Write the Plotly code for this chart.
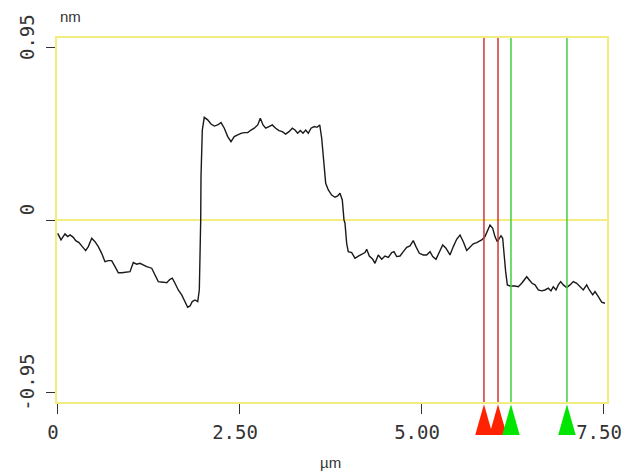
import plotly.graph_objects as go

# Profile: lateral position (µm) and height (nm)
x_um = [0.010, 0.055, 0.110, 0.147, 0.179, 0.224, 0.257, 0.302, 0.348, 0.394,
        0.430, 0.477, 0.522, 0.567, 0.614, 0.659, 0.705, 0.751, 0.797, 0.842,
        0.889, 0.957, 1.003, 1.048, 1.095, 1.140, 1.185, 1.232, 1.301, 1.346,
        1.391, 1.460, 1.507, 1.552, 1.584, 1.621, 1.666, 1.713, 1.758, 1.795,
        1.827, 1.858, 1.896, 1.933, 1.955, 1.964, 1.974,
        1.978, 1.996, 2.023, 2.070, 2.115, 2.161, 2.207, 2.253, 2.298, 2.345,
        2.390, 2.435, 2.482, 2.527, 2.573, 2.620, 2.665, 2.710, 2.757, 2.793,
        2.830, 2.867, 2.912, 2.957, 3.004, 3.049, 3.095, 3.141, 3.187, 3.232,
        3.269, 3.306, 3.342, 3.379, 3.416, 3.452, 3.489, 3.534, 3.571, 3.609,
        3.636, 3.663, 3.691, 3.727, 3.773, 3.819, 3.856, 3.887, 3.919, 3.942,
        3.956, 3.979, 4.001, 4.048, 4.093, 4.139, 4.185, 4.231, 4.254, 4.290,
        4.337, 4.368, 4.413, 4.460, 4.505, 4.551, 4.598, 4.629, 4.666, 4.712,
        4.757, 4.804, 4.849, 4.894, 4.931, 4.977, 5.032, 5.078, 5.124, 5.161,
        5.206, 5.251, 5.298, 5.343, 5.398, 5.444, 5.490, 5.536, 5.581, 5.628,
        5.673, 5.718, 5.765, 5.787, 5.834, 5.879, 5.925, 5.948, 5.985, 6.016,
        6.048, 6.076, 6.099, 6.122, 6.140, 6.163, 6.186, 6.223, 6.291, 6.337,
        6.383, 6.415, 6.452, 6.488, 6.525, 6.566, 6.611, 6.658, 6.703, 6.749,
        6.786, 6.817, 6.854, 6.886, 6.919, 6.955, 7.001, 7.047, 7.092, 7.139,
        7.184, 7.229, 7.276, 7.312, 7.359, 7.390, 7.436, 7.482, 7.527]

height_nm = [-0.071, -0.107, -0.074, -0.089, -0.080, -0.093, -0.111, -0.122, -0.144, -0.166,
             -0.144, -0.098, -0.117, -0.144, -0.181, -0.227, -0.221, -0.221, -0.254, -0.288,
             -0.288, -0.282, -0.282, -0.232, -0.241, -0.236, -0.245, -0.254, -0.263, -0.300,
             -0.337, -0.340, -0.343, -0.324, -0.318, -0.346, -0.383, -0.410, -0.447, -0.478,
             -0.471, -0.447, -0.438, -0.447, -0.383, -0.236, 0.003,
             0.241, 0.498, 0.568, 0.554, 0.531, 0.520, 0.526, 0.539, 0.508, 0.462,
             0.434, 0.462, 0.471, 0.480, 0.484, 0.484, 0.498, 0.508, 0.526, 0.563,
             0.526, 0.508, 0.517, 0.526, 0.508, 0.495, 0.489, 0.476, 0.489, 0.508,
             0.498, 0.480, 0.495, 0.480, 0.498, 0.480, 0.508, 0.517, 0.513, 0.526,
             0.453, 0.315, 0.205, 0.168, 0.140, 0.128, 0.135, 0.150, 0.113, 0.003,
             -0.015, -0.126, -0.172, -0.177, -0.208, -0.196, -0.186, -0.177, -0.159, -0.196,
             -0.214, -0.236, -0.190, -0.214, -0.196, -0.203, -0.177, -0.172, -0.199, -0.196,
             -0.172, -0.148, -0.140, -0.111, -0.144, -0.181, -0.190, -0.190, -0.172, -0.199,
             -0.214, -0.172, -0.135, -0.153, -0.190, -0.144, -0.104, -0.080, -0.117, -0.166,
             -0.149, -0.129, -0.122, -0.117, -0.107, -0.089, -0.043, -0.025, -0.043, -0.089,
             -0.117, -0.098, -0.084, -0.098, -0.190, -0.282, -0.355, -0.361, -0.361, -0.365,
             -0.346, -0.328, -0.310, -0.328, -0.346, -0.355, -0.383, -0.388, -0.383, -0.373,
             -0.388, -0.365, -0.383, -0.355, -0.337, -0.355, -0.370, -0.355, -0.337, -0.346,
             -0.365, -0.383, -0.355, -0.383, -0.410, -0.392, -0.420, -0.450, -0.456]

# Cursor markers (µm)
red_cursors = [5.865, 6.058]
green_cursors = [6.236, 7.005]
hidden_cursor = [6.125]

x_ticks = [0, 2.5, 5.0, 7.5]
x_tick_text = ["0", "2.50", "5.00", "7.50"]
y_ticks = [-0.95, 0, 0.95]
y_tick_text = ["-0.95", "0", "0.95"]

YELLOW = "#f3ec7e"
TICK_FONT = dict(family="DejaVu Sans Mono", size=19, color="#333333")

fig = go.Figure()
fig.add_trace(go.Scatter(x=x_um, y=height_nm, mode="lines",
                         line=dict(color="#1a1a1a", width=1.4),
                         hoverinfo="x+y", showlegend=False))

shapes = []
tri_half = 0.12
tri_top, tri_base = -0.006, -0.091


def cursor(xv, line_col):
    shapes.append(dict(type="line", xref="x", yref="paper", x0=xv, x1=xv, y0=0, y1=1,
                       line=dict(color=line_col, width=1.5), layer="above"))


def triangle(xv, fill_col, half=tri_half, top=tri_top):
    path = (f"M {xv - half},{tri_base} L {xv + half},{tri_base} "
            f"L {xv},{top} Z")
    shapes.append(dict(type="path", xref="x", yref="paper", path=path,
                       fillcolor=fill_col, line=dict(width=0), layer="above"))


for xv in red_cursors:
    cursor(xv, "#cf3535")
for xv in green_cursors:
    cursor(xv, "#3fcf3f")
for xv in hidden_cursor:
    triangle(xv, "#111111", half=0.05, top=-0.06)
for xv in red_cursors:
    triangle(xv, "#ff2200")
for xv in green_cursors:
    triangle(xv, "#00e600")

fig.update_layout(
    width=624, height=471,
    margin=dict(l=57, r=17, t=38, b=69, autoexpand=False),
    paper_bgcolor="white", plot_bgcolor="white",
    shapes=shapes,
    showlegend=False,
    xaxis=dict(range=[0, 7.555], tickmode="array", tickvals=x_ticks, ticktext=x_tick_text,
               showgrid=False, zeroline=False, showline=True, mirror=True,
               linecolor=YELLOW, linewidth=2, ticks="outside", ticklen=10,
               tickcolor="#333333", tickwidth=1, tickfont=TICK_FONT,
               ticklabelstandoff=2, ticklabelshift=-4, automargin=False),
    yaxis=dict(range=[-1.0, 1.005], tickmode="array", tickvals=y_ticks, ticktext=y_tick_text,
               showgrid=False, zeroline=True, zerolinecolor=YELLOW, zerolinewidth=2,
               showline=True, mirror=True, linecolor=YELLOW, linewidth=2,
               ticks="outside", ticklen=9, tickcolor="#333333", tickwidth=1,
               tickfont=TICK_FONT, tickangle=-90, ticklabelshift=-8,
               ticklabelstandoff=4, automargin=False),
    annotations=[
        dict(text="nm", xref="paper", yref="paper", x=0.024, y=1.058,
             showarrow=False, font=dict(family="Liberation Sans", size=15, color="#333333"),
             xanchor="center", yanchor="middle"),
        dict(text="µm", xref="paper", yref="paper", x=0.498, y=-0.165,
             showarrow=False, font=dict(family="Liberation Sans", size=15, color="#333333"),
             xanchor="center", yanchor="middle"),
    ],
)

# Remove the default page margin so the figure fills the 624x471 window exactly
fig.write_html("out.html",
               config={"displayModeBar": False},
               post_script="document.body.style.margin='0';document.body.style.overflow='hidden';")
